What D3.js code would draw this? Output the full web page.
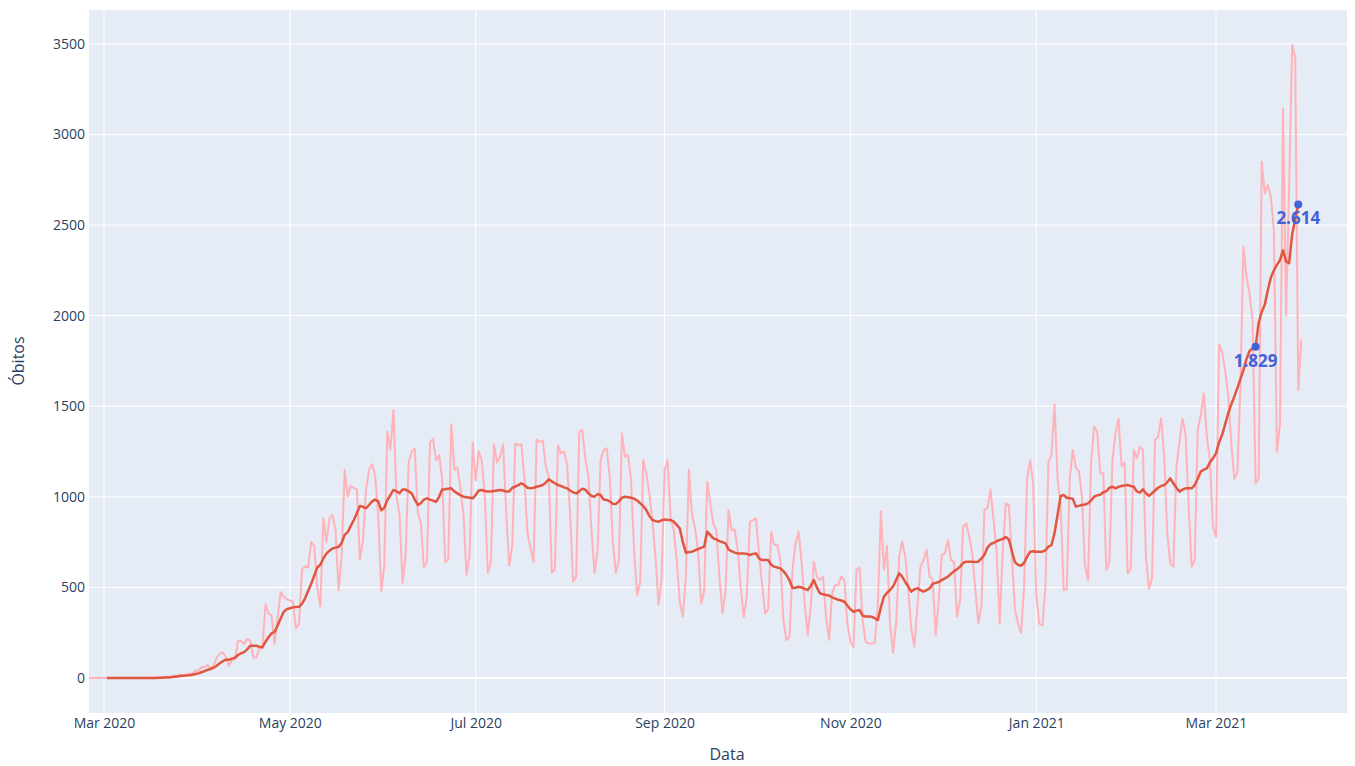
<!DOCTYPE html>
<html>
<head>
<meta charset="utf-8">
<script src="https://cdn.jsdelivr.net/npm/d3@7"></script>
<style>
  body { margin: 0; background: #ffffff; }
  text { font-family: "Open Sans", verdana, arial, sans-serif; }
</style>
</head>
<body>
<svg id="chart" width="1355" height="766"></svg>
<script>
// ---------------- DATA ----------------
// Daily deaths, one value per day starting at dailyStart
const dailyStart = "2020-02-25";
const dailyDeaths = [
  0,0,0,0,0,
  0,0,0,0,0,0,0,
  0,0,0,0,0,0,0,
  0,0,1,3,3,4,7,
  7,9,12,13,18,15,19,
  25,23,42,39,59,60,72,
  55,67,114,133,141,115,68,
  99,105,204,204,188,217,206,
  115,113,166,165,407,357,346,
  189,338,474,449,435,428,421,
  275,296,600,615,610,751,730,
  496,396,881,749,880,900,816,
  485,674,1150,1000,1060,1050,1040,
  653,760,1040,1150,1180,1120,900,
  480,620,1360,1260,1480,1005,900,
  525,680,1190,1250,1265,910,860,
  612,640,1300,1320,1200,1230,1100,
  641,654,1400,1150,1160,1050,900,
  570,680,1300,1090,1250,1200,1000,
  580,640,1290,1190,1220,1290,920,
  620,730,1295,1285,1290,1100,800,
  716,640,1315,1305,1310,1170,1110,
  580,600,1285,1240,1250,1180,900,
  532,560,1360,1370,1210,1110,820,
  580,700,1200,1258,1268,1110,760,
  580,650,1350,1222,1231,1093,700,
  458,530,1205,1130,1020,872,670,
  405,540,1150,1200,880,820,650,
  420,340,560,1150,900,830,700,
  412,480,1084,964,854,817,560,
  357,480,927,817,820,707,500,
  338,450,863,872,881,688,520,
  357,380,808,734,734,651,320,
  210,228,600,743,808,633,412,
  237,400,642,559,541,559,339,
  210,467,513,513,560,540,300,
  200,170,600,610,320,200,190,
  190,195,400,920,600,730,300,
  140,300,670,752,670,486,265,
  173,400,614,650,707,559,541,
  237,430,679,688,762,651,640,
  339,430,835,854,780,688,486,
  302,400,930,940,1040,870,700,
  300,700,964,955,670,380,300,
  250,500,1100,1200,1070,460,300,
  290,500,1190,1230,1510,1100,960,
  486,490,1100,1259,1160,1140,1000,
  620,540,1190,1390,1360,1130,1130,
  596,640,1200,1350,1433,1170,1190,
  578,600,1259,1212,1277,1259,670,
  495,550,1314,1332,1433,1222,799,
  633,615,1167,1300,1433,1350,964,
  615,650,1370,1450,1570,1332,1203,
  835,780,1840,1800,1700,1560,1300,
  1100,1130,1600,2380,2215,2123,1976,
  1075,1100,2850,2675,2721,2657,2470,
  1250,1400,3144,2000,2700,3494,3430,
  1590,1870
];

// 7-day moving average, one value per day starting at maStart
const maStart = "2020-03-02";
const movingAverage = [
  0,0,0,0,0,0,
  0,0,0,0,0,0,0,
  0,0,0.1,0.6,1,1.6,2.6,
  3.6,4.9,6.6,8.4,10.9,12.6,13.3,
  16,17.7,21.9,25.6,31.7,37.8,45.4,
  50,57,68,81,93,101,101,
  107,112,127,137,143,158,178,
  178,178,173,170,200,225,247,
  255,290,330,365,380,385,390,
  392,393,410,440,480,520,565,
  610,625,660,687,703,715,720,
  724,745,790,805,840,872,910,
  950,945,937,955,975,985,975,
  926,940,982,1010,1038,1030,1020,
  1041,1040,1030,1019,985,955,965,
  985,992,985,979,973,1000,1041,
  1042,1045,1047,1030,1019,1008,1001,
  998,995,992,1010,1035,1038,1032,
  1030,1029,1032,1035,1038,1035,1029,
  1030,1050,1056,1065,1075,1065,1050,
  1047,1050,1056,1060,1065,1078,1097,
  1085,1075,1065,1060,1052,1047,1035,
  1025,1019,1030,1045,1040,1020,1005,
  1001,1015,1010,985,983,975,962,
  960,975,995,1001,998,995,990,
  980,964,950,927,895,872,866,
  863,870,875,872,872,863,845,
  826,750,692,695,697,705,712,
  718,725,808,790,771,765,755,
  750,743,710,700,692,688,688,
  688,685,679,685,688,660,651,
  651,651,625,615,610,605,590,
  569,540,497,498,504,500,492,
  486,510,541,500,467,462,458,
  455,445,438,432,428,421,400,
  380,366,372,375,345,339,339,
  338,330,320,390,449,470,486,
  505,541,578,560,530,505,477,
  490,495,485,477,485,495,520,
  525,530,540,550,559,575,590,
  600,615,635,642,642,642,640,
  642,660,680,720,740,745,755,
  762,768,778,765,700,640,625,
  620,635,670,697,700,697,697,
  697,705,725,734,800,900,1005,
  1010,995,992,990,946,950,955,
  958,964,980,1001,1008,1012,1025,
  1032,1050,1056,1047,1055,1060,1062,
  1065,1060,1056,1030,1023,1041,1020,
  1005,1020,1035,1050,1060,1065,1080,
  1102,1075,1050,1029,1040,1047,1047,
  1047,1065,1100,1140,1150,1157,1190,
  1213,1240,1300,1341,1400,1460,1510,
  1553,1600,1650,1700,1760,1805,1820,
  1829,1960,2020,2060,2140,2210,2250,
  2280,2307,2360,2300,2290,2450,2530,
  2614
];

// Highlighted points (annotations)
const highlightDates  = ["2021-03-14", "2021-03-28"];
const highlightValues = [1829, 2614];
const highlightLabels = ["1.829", "2.614"];

// Axis ticks
const xTickDates  = ["2020-03-01","2020-05-01","2020-07-01","2020-09-01","2020-11-01","2021-01-01","2021-03-01"];
const xTickLabels = ["Mar 2020","May 2020","Jul 2020","Sep 2020","Nov 2020","Jan 2021","Mar 2021"];
const yTicks      = [0, 500, 1000, 1500, 2000, 2500, 3000, 3500];

const xTitle = "Data";
const yTitle = "Óbitos";

// ---------------- CHART ----------------
const W = 1355, H = 766;
const plot = { left: 89, right: 1347, top: 10, bottom: 713 };
const parse = d3.utcParse("%Y-%m-%d");

const dailySeries = dailyDeaths.map((v, i) => ({ date: d3.utcDay.offset(parse(dailyStart), i), value: v }));
const maSeries = movingAverage.map((v, i) => ({ date: d3.utcDay.offset(parse(maStart), i), value: v }));

const x = d3.scaleUtc()
  .domain([new Date(Date.UTC(2020, 1, 25, 1, 50)), new Date(Date.UTC(2021, 3, 13, 0, 0))])
  .range([plot.left, plot.right]);
const y = d3.scaleLinear()
  .domain([-193, 3687])
  .range([plot.bottom, plot.top]);

const svg = d3.select("#chart");
svg.append("rect").attr("x", 0).attr("y", 0).attr("width", W).attr("height", H).attr("fill", "#ffffff");
svg.append("rect")
  .attr("x", plot.left).attr("y", plot.top)
  .attr("width", plot.right - plot.left).attr("height", plot.bottom - plot.top)
  .attr("fill", "#e5ecf6");

svg.append("defs").append("clipPath").attr("id", "clip")
  .append("rect")
  .attr("x", plot.left).attr("y", plot.top)
  .attr("width", plot.right - plot.left).attr("height", plot.bottom - plot.top);

// grid lines
const grid = svg.append("g");
grid.selectAll("line.v").data(xTickDates).enter().append("line")
  .attr("x1", d => x(parse(d))).attr("x2", d => x(parse(d)))
  .attr("y1", plot.top).attr("y2", plot.bottom)
  .attr("stroke", "#ffffff").attr("stroke-width", 1);
grid.selectAll("line.h").data(yTicks).enter().append("line")
  .attr("x1", plot.left).attr("x2", plot.right)
  .attr("y1", d => y(d)).attr("y2", d => y(d))
  .attr("stroke", "#ffffff").attr("stroke-width", d => d === 0 ? 2 : 1);

// axes
const xAxis = d3.axisBottom(x)
  .tickValues(xTickDates.map(parse))
  .tickFormat((d, i) => xTickLabels[i])
  .tickSize(0).tickPadding(5);
const gx = svg.append("g").attr("transform", `translate(0,${plot.bottom})`).call(xAxis);
gx.select(".domain").remove();
gx.selectAll("text").attr("fill", "#2a3f5f").style("font-size", "14px");

const yAxis = d3.axisLeft(y).tickValues(yTicks).tickFormat(d3.format("d")).tickSize(0).tickPadding(4);
const gy = svg.append("g").attr("transform", `translate(${plot.left},0)`).call(yAxis);
gy.select(".domain").remove();
gy.selectAll("text").attr("fill", "#2a3f5f").style("font-size", "14px");

// axis titles
svg.append("text").attr("x", 727).attr("y", 760).attr("text-anchor", "middle")
  .attr("fill", "#2a3f5f").style("font-size", "16px").text(xTitle);
svg.append("text").attr("transform", "translate(24,361) rotate(-90)").attr("text-anchor", "middle")
  .attr("fill", "#2a3f5f").style("font-size", "16px").text(yTitle);

// lines
const line = d3.line().x(d => x(d.date)).y(d => y(d.value));
const lines = svg.append("g").attr("clip-path", "url(#clip)");
lines.append("path").datum(dailySeries)
  .attr("d", line).attr("fill", "none")
  .attr("stroke", "#ffb3b8").attr("stroke-width", 2).attr("stroke-linejoin", "round");
lines.append("path").datum(maSeries)
  .attr("d", line).attr("fill", "none")
  .attr("stroke", "#e2553f").attr("stroke-width", 2.5).attr("stroke-linejoin", "round");

// highlights
const hl = highlightDates.map((d, i) => ({ date: parse(d), value: highlightValues[i], label: highlightLabels[i] }));
const g = svg.append("g");
g.selectAll("circle").data(hl).enter().append("circle")
  .attr("cx", d => x(d.date)).attr("cy", d => y(d.value)).attr("r", 4)
  .attr("fill", "#4263d8");
g.selectAll("text").data(hl).enter().append("text")
  .attr("x", d => x(d.date)).attr("y", d => y(d.value) + 20)
  .attr("text-anchor", "middle").attr("fill", "#4263d8")
  .style("font-size", "17px").style("font-weight", "bold")
  .text(d => d.label);
</script>
</body>
</html>
